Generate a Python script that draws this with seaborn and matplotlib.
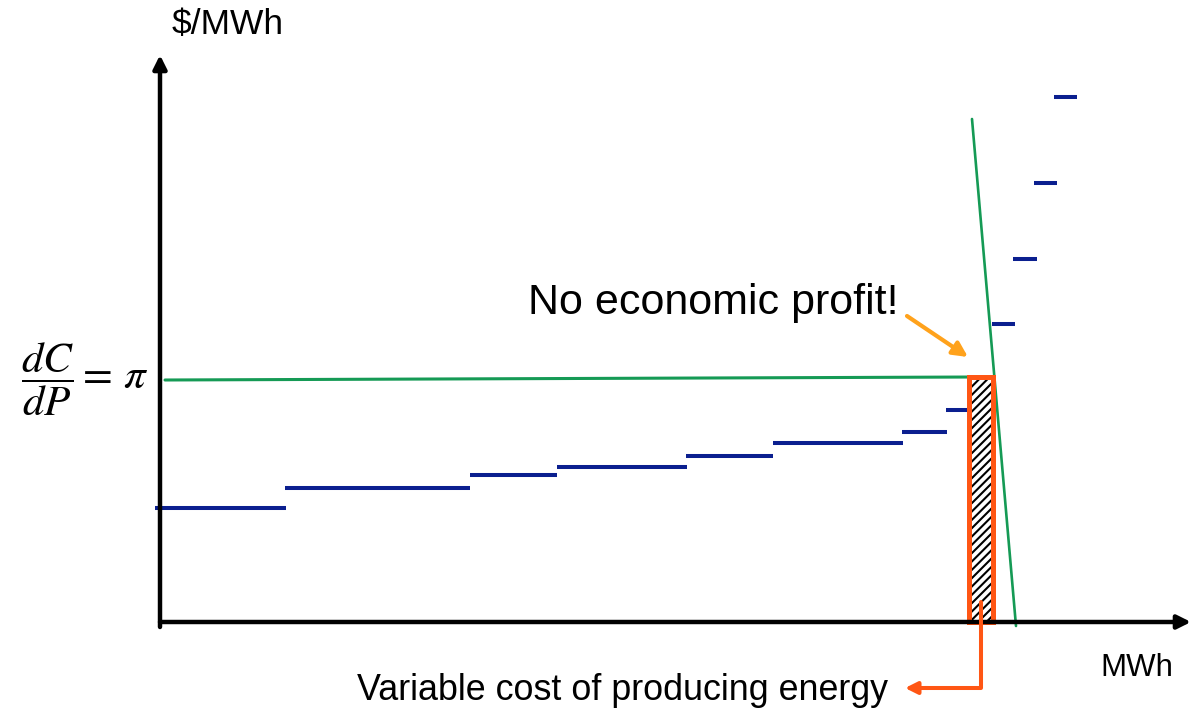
"""merit-order supply curve with a price-taker at the margin"""
import numpy as np
import matplotlib
matplotlib.use("Agg")
import matplotlib.pyplot as plt
from matplotlib.patches import Rectangle
import seaborn as sns
import pandas as pd

# supply blocks (MWh start, MWh end, $/MWh)
step_start = [-0.5, 12.5, 31.0, 39.7, 52.6, 61.3, 74.2, 78.6, 83.2, 85.3, 87.4, 89.4]
step_end = [12.6, 31.0, 39.7, 52.7, 61.3, 74.3, 78.7, 80.9, 85.5, 87.7, 89.7, 91.7]
step_price = [11.4, 13.4, 14.7, 15.5, 16.6, 17.9, 19.0, 21.2, 29.8, 36.3, 43.9, 52.5]

# market price line and demand line
price_x = [0.5, 81.5]
price_y = [24.2, 24.5]
demand_x = [81.2, 85.6]
demand_y = [50.3, -0.4]

# marginal unit (hatched block)
unit_q = [80.9, 83.3]
unit_price = 24.5

NAVY = "#0b1f8f"
GREEN = "#159a55"
RED_ORANGE = "#ff5614"
ORANGE = "#ffa21c"


def steps_frame():
    rows = []
    for i, (a, b, p) in enumerate(zip(step_start, step_end, step_price)):
        rows.append({"block": i, "MWh": a, "price": p})
        rows.append({"block": i, "MWh": b, "price": p})
    return pd.DataFrame(rows)


sns.set_theme(style="white")
plt.rcParams["font.family"] = ["Liberation Sans", "DejaVu Sans"]
plt.rcParams["mathtext.fontset"] = "stix"
plt.rcParams["hatch.linewidth"] = 1.5
plt.rcParams["text.color"] = "black"

fig = plt.figure(figsize=(12.02, 7.12), dpi=100)
ax = fig.add_axes([0, 0, 1, 1])
ax.set_xlim(-16, 104.2)
ax.set_ylim(-9, 62.2)
ax.set_axis_off()

# supply curve
sns.lineplot(data=steps_frame(), x="MWh", y="price", units="block", estimator=None,
             sort=False, color=NAVY, lw=2.9, solid_capstyle="butt", legend=False, ax=ax)

# price and demand
sns.lineplot(x=price_x, y=price_y, sort=False, color=GREEN, lw=2.2, ax=ax)
sns.lineplot(x=demand_x, y=demand_y, sort=False, color=GREEN, lw=1.9, ax=ax)

# hatched variable cost block
w = unit_q[1] - unit_q[0]
ax.add_patch(Rectangle((unit_q[0], 0), w, unit_price, facecolor="white",
                       edgecolor="black", hatch="////", lw=0, zorder=3))
ax.add_patch(Rectangle((unit_q[0], 0), w, unit_price, facecolor="none",
                       edgecolor=RED_ORANGE, lw=3.6, zorder=4))

# axes with arrow heads
ax.annotate("", xy=(0, 56.7), xytext=(0, -0.5),
            arrowprops=dict(arrowstyle="-|>", color="black", lw=3.2,
                            mutation_scale=20, shrinkA=0, shrinkB=0), zorder=5)
ax.annotate("", xy=(103.1, 0), xytext=(0, 0),
            arrowprops=dict(arrowstyle="-|>", color="black", lw=3.2,
                            mutation_scale=20, shrinkA=0, shrinkB=0), zorder=5)

# pointer from the block to its label
mid = (unit_q[0] + unit_q[1]) / 2
ax.plot([mid, mid, 76.5], [2.0, -6.6, -6.6], color=RED_ORANGE, lw=2.9,
        solid_joinstyle="round", zorder=6)
ax.annotate("", xy=(74.5, -6.6), xytext=(76.8, -6.6),
            arrowprops=dict(arrowstyle="-|>", color=RED_ORANGE, lw=2.9,
                            mutation_scale=18, shrinkA=0, shrinkB=0), zorder=6)

# labels
ax.text(1.2, 59.8, "$/MWh", fontsize=25.5, ha="left", va="center")
ax.text(94.0, -4.6, "MWh", fontsize=22.5, ha="left", va="center")
ax.text(36.8, 31.9, "No economic profit!", fontsize=31, ha="left", va="center")
ax.annotate("", xy=(80.8, 26.5), xytext=(74.7, 30.6),
            arrowprops=dict(arrowstyle="-|>", color=ORANGE, lw=3.0,
                            mutation_scale=22, shrinkA=0, shrinkB=0))
ax.text(72.8, -6.8, "Variable cost of producing energy", fontsize=25.8,
        ha="right", va="center")
ax.text(-13.9, 24.3, r"$\dfrac{dC}{dP}=\,\pi$", fontsize=31, ha="left", va="center")

plt.savefig("out.png", dpi=100)
